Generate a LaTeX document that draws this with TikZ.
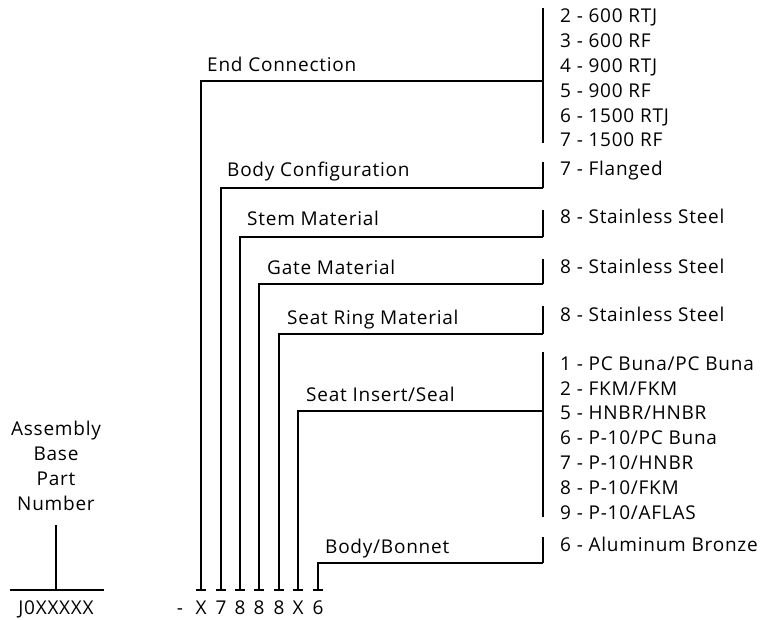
\documentclass[tikz,border=0pt]{standalone}
\usepackage{fontspec}
\setmainfont[LetterSpace=4]{Open Sans}
\usetikzlibrary{positioning, calc}

\begin{document}
\begin{tikzpicture}[
  x=1pt, y=-1pt,
  base/.style={font=\fontsize{19}{24.8}\selectfont, inner sep=0pt},
  fieldlbl/.style={base, anchor=base west},
  optlist/.style={base, anchor=base west, align=left},
  codechar/.style={base, anchor=base},
  leader/.style={line width=2pt},
  bracket/.style={line width=2pt},
]

% Canvas
\useasboundingbox (0,0) rectangle (765,620);

% Bracket and list x-positions
\def\xB{543}
\def\xL{560}

% Code baseline and tick height
\def\yC{614}
\def\yT{590}

% ---- Base part number ----
% (multi-line nodes sit on their last line)
\node[base, align=center, anchor=base] (asmlbl) at (56,510)
  {Assembly\\Base\\Part\\Number};
\node[codechar] (basenum) at (56,\yC) {J0XXXXX};
\coordinate (basetop) at (56,525);
\coordinate (baseL) at (10,\yT);
\coordinate (baseR) at (104,\yT);
\draw[leader] (baseL) -- (baseR);
\draw[leader] (basetop) -- (basetop |- baseL);

% ---- Code characters ----
\node[codechar] (dash) at (180,\yC) {-};
\node[codechar] (c1) at (201,\yC) {X};
\node[codechar] (c2) at (221,\yC) {7};
\node[codechar] (c3) at (240,\yC) {8};
\node[codechar] (c4) at (259,\yC) {8};
\node[codechar] (c5) at (279,\yC) {8};
\node[codechar] (c6) at (298,\yC) {X};
\node[codechar] (c7) at (318,\yC) {6};

% Ticks over the characters
\coordinate (t1) at (201,\yT);
\coordinate (t2) at (221,\yT);
\coordinate (t3) at (240,\yT);
\coordinate (t4) at (259,\yT);
\coordinate (t5) at (279,\yT);
\coordinate (t6) at (298,\yT);
\coordinate (t7) at (318,\yT);
\foreach \t in {t1,t2,t3,t4,t5,t6,t7}
  \draw[leader] ([xshift=-5pt]\t) -- ([xshift=5pt]\t);

% ---- Field labels ----
\node[fieldlbl] (lblEnd) at (207,72) {End Connection};
\node[fieldlbl] (lblBody) at (227,177) {Body Configuration};
\node[fieldlbl] (lblStem) at (247,226) {Stem Material};
\node[fieldlbl] (lblGate) at (267,274) {Gate Material};
\node[fieldlbl] (lblRing) at (287,324) {Seat Ring Material};
\node[fieldlbl] (lblSeal) at (306,401) {Seat Insert/Seal};
\node[fieldlbl] (lblBonnet) at (325,553) {Body/Bonnet};

% ---- Option lists ----
\node[optlist] (optEnd) at (\xL,147)
  {2 - 600 RTJ\\3 - 600 RF\\4 - 900 RTJ\\5 - 900 RF\\6 - 1500 RTJ\\7 - 1500 RF};
\node[optlist] (optBody) at (\xL,176) {7 - Flanged};
\node[optlist] (optStem) at (\xL,224) {8 - Stainless Steel};
\node[optlist] (optGate) at (\xL,273) {8 - Stainless Steel};
\node[optlist] (optRing) at (\xL,321) {8 - Stainless Steel};
\node[optlist] (optSeal) at (\xL,519)
  {1 - PC Buna/PC Buna\\2 - FKM/FKM\\5 - HNBR/HNBR\\6 - P-10/PC Buna\\7 - P-10/HNBR\\8 - P-10/FKM\\9 - P-10/AFLAS};
\node[optlist] (optBonnet) at (\xL,551) {6 - Aluminum Bronze};

% ---- Bracket ends ----
\coordinate (bEnd) at (\xB,81);
\coordinate (bBody) at (\xB,188);
\coordinate (bStem) at (\xB,237);
\coordinate (bGate) at (\xB,284);
\coordinate (bRing) at (\xB,334);
\coordinate (bSeal) at (\xB,411);
\coordinate (bBonnet) at (\xB,563);

% Brackets beside the lists
\draw[bracket] (\xB,8) -- (\xB,143);
\draw[bracket] (\xB,162) -- (bBody);
\draw[bracket] (\xB,210) -- (bStem);
\draw[bracket] (\xB,259) -- (bGate);
\draw[bracket] (\xB,306) -- (bRing);
\draw[bracket] (\xB,352) -- (\xB,517);
\draw[bracket] (\xB,537) -- (bBonnet);

% ---- Leaders: tick -> bracket ----
\draw[leader] (t1) |- (bEnd);
\draw[leader] (t2) |- (bBody);
\draw[leader] (t3) |- (bStem);
\draw[leader] (t4) |- (bGate);
\draw[leader] (t5) |- (bRing);
\draw[leader] (t6) |- (bSeal);
\draw[leader] (t7) |- (bBonnet);

\end{tikzpicture}
\end{document}
